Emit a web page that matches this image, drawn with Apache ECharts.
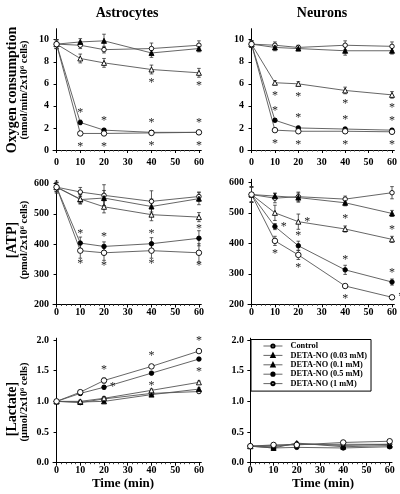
<!DOCTYPE html>
<html><head><meta charset="utf-8">
<script src="https://cdn.jsdelivr.net/npm/echarts@6/dist/echarts.min.js"></script>
<style>html,body{margin:0;padding:0;background:#fff}#c{width:400px;height:494px}</style>
</head><body><div id="c"></div>
<script>
// ---------------- DATA ----------------
const times = [0, 10, 20, 40, 60];
const seriesNames = ['Control', 'DETA-NO (0.03 mM)', 'DETA-NO (0.1 mM)', 'DETA-NO (0.5 mM)', 'DETA-NO (1 mM)'];
const xTickLabels = [0, 10, 20, 30, 40, 50, 60];
const xMinorTicks = [2, 4, 6, 8, 12, 14, 16, 18, 22, 24, 26, 28, 32, 34, 36, 38, 42, 44, 46, 48, 52, 54, 56, 58];
const o2Ticks = [0, 2, 4, 6, 8, 10];
const atpTicks = [200, 300, 400, 500, 600];
const lactTicks = [0, 0.5, 1.0, 1.5, 2.0];

// Oxygen consumption, astrocytes (rows follow seriesNames)
const astroO2 = [
  [9.6, 9.5, 9.1, 9.2, 9.5],
  [9.6, 9.8, 9.9, 8.8, 9.2],
  [9.6, 8.3, 7.9, 7.3, 7.0],
  [9.6, 2.5, 1.8, 1.6, 1.6],
  [9.6, 1.5, 1.5, 1.55, 1.6]
];
const astroO2Err = [
  [0.4, 0.3, 0.3, 0.5, 0.4],
  [0.4, 0.3, 0.6, 0.4, 0.3],
  [0.4, 0.4, 0.4, 0.4, 0.4],
  [0.4, 0.2, 0.15, 0.15, 0.15],
  [0.4, 0.15, 0.15, 0.2, 0.15]
];
const astroO2Sig = [
  ['', '', '', '', ''],
  ['', '', '', '', ''],
  ['', '', '', 'b', 'b'],
  ['', 't', 't', 't', 't'],
  ['', 'b', 'b', 'b', 'b']
];

// Oxygen consumption, neurons
const neuroO2 = [
  [9.6, 9.5, 9.3, 9.5, 9.4],
  [9.6, 9.3, 9.2, 9.0, 9.0],
  [9.6, 6.1, 6.0, 5.4, 5.0],
  [9.6, 2.7, 2.0, 1.9, 1.8],
  [9.6, 1.8, 1.7, 1.7, 1.65]
];
const neuroO2Err = [
  [0.3, 0.3, 0.2, 0.4, 0.4],
  [0.3, 0.3, 0.2, 0.4, 0.3],
  [0.3, 0.2, 0.2, 0.3, 0.3],
  [0.3, 0.15, 0.15, 0.15, 0.15],
  [0.3, 0.15, 0.15, 0.15, 0.15]
];
const neuroO2Sig = [
  ['', '', '', '', ''],
  ['', '', '', '', ''],
  ['', 'b', 'b', 'b', 'b'],
  ['', 't', 't', 't', 't'],
  ['', 'b', 'b', 'b', 'b']
];

// ATP, astrocytes
const astroATP = [
  [588, 572, 561, 541, 557],
  [588, 547, 552, 524, 550],
  [588, 549, 523, 497, 489],
  [588, 403, 392, 401, 419],
  [588, 378, 371, 378, 371]
];
const astroATPErr = [
  [20, 15, 35, 35, 15],
  [15, 15, 25, 25, 20],
  [15, 15, 20, 20, 15],
  [15, 20, 15, 20, 25],
  [15, 25, 25, 25, 30]
];
const astroATPSig = [
  ['', '', '', '', ''],
  ['', '', '', '', ''],
  ['', '', '', '', ''],
  ['', 't', 't', 't', 't'],
  ['', 'b', 'b', 'b', 'b']
];

// ATP, neurons
const neuroATP = [
  [560, 548, 553, 545, 566],
  [560, 555, 550, 533, 498],
  [560, 500, 471, 447, 413],
  [560, 455, 392, 313, 273],
  [560, 408, 362, 260, 223]
];
const neuroATPErr = [
  [25, 15, 15, 10, 20],
  [25, 10, 15, 10, 10],
  [25, 25, 25, 10, 10],
  [25, 10, 15, 15, 10],
  [25, 15, 15, 5, 5]
];
const neuroATPSig = [
  ['', '', '', '', ''],
  ['', '', '', '', ''],
  ['', '', 'r', 't', 't'],
  ['', 'r', 't', 't', 't'],
  ['', 'b', 'b', 'b', 'r']
];

// Lactate, astrocytes
const astroLac = [
  [1.0, 0.98, 1.04, 1.13, 1.16],
  [1.0, 0.99, 1.0, 1.11, 1.2],
  [1.0, 1.0, 1.05, 1.18, 1.31],
  [1.0, 1.13, 1.23, 1.46, 1.69],
  [1.0, 1.15, 1.34, 1.57, 1.82]
];
const astroLacErr = [
  [0.02, 0.02, 0.02, 0.02, 0.02],
  [0.02, 0.02, 0.02, 0.02, 0.02],
  [0.02, 0.02, 0.03, 0.02, 0.02],
  [0.02, 0.03, 0.03, 0.02, 0.02],
  [0.02, 0.03, 0.04, 0.02, 0.02]
];
const astroLacSig = [
  ['', '', '', '', ''],
  ['', '', '', '', ''],
  ['', '', '', '', ''],
  ['', '', 'r', 'b', 'b'],
  ['', '', 't', 't', 't']
];

// Lactate, neurons
const neuroLac = [
  [0.27, 0.28, 0.30, 0.30, 0.30],
  [0.27, 0.24, 0.32, 0.26, 0.28],
  [0.27, 0.26, 0.31, 0.28, 0.30],
  [0.27, 0.24, 0.25, 0.24, 0.26],
  [0.27, 0.29, 0.29, 0.33, 0.35]
];
const neuroLacErr = [
  [0.02, 0.02, 0.02, 0.02, 0.02],
  [0.02, 0.02, 0.02, 0.02, 0.02],
  [0.02, 0.02, 0.02, 0.02, 0.02],
  [0.02, 0.02, 0.02, 0.02, 0.02],
  [0.02, 0.02, 0.02, 0.02, 0.02]
];
const neuroLacSig = [
  ['', '', '', '', ''], ['', '', '', '', ''], ['', '', '', '', ''], ['', '', '', '', ''], ['', '', '', '', '']
];

// ---------------- STYLE / LAYOUT ----------------
const FONT = 'Liberation Serif';
const symbols = ['circle', 'triangle', 'triangle', 'circle', 'circle'];
const symbolFills = ['#fff', '#000', '#fff', '#000', '#fff'];
const symbolSizes = [4.5, 5, 5, 4.5, 5.5];

const panels = [
  { vals: astroO2, err: astroO2Err, sig: astroO2Sig, grid: { left: 53, top: 28.7, width: 148.3, height: 121.3 }, xmin: -1.5, ymin: 0, ymax: 11, ticks: o2Ticks, dec: 0, xMargin: 7 },
  { vals: neuroO2, err: neuroO2Err, sig: neuroO2Sig, grid: { left: 248, top: 28.7, width: 147.7, height: 121.3 }, xmin: -1.5, ymin: 0, ymax: 11, ticks: o2Ticks, dec: 0, xMargin: 7 },
  { vals: astroATP, err: astroATPErr, sig: astroATPSig, grid: { left: 53, top: 180.5, width: 148.3, height: 124 }, xmin: -1.5, ymin: 200, ymax: 610, ticks: atpTicks, dec: 0, xMargin: 3 },
  { vals: neuroATP, err: neuroATPErr, sig: neuroATPSig, grid: { left: 248, top: 179.3, width: 147.7, height: 125 }, xmin: -1.5, ymin: 200, ymax: 610, ticks: atpTicks, dec: 0, xMargin: 3 },
  { vals: astroLac, err: astroLacErr, sig: astroLacSig, grid: { left: 53, top: 338.2, width: 148.3, height: 124.5 }, xmin: -1.5, ymin: 0, ymax: 2.03, ticks: lactTicks, dec: 1, xMargin: 3 },
  { vals: neuroLac, err: neuroLacErr, sig: neuroLacSig, grid: { left: 248, top: 338.2, width: 144, height: 124.5 }, xmin: -1, ymin: 0, ymax: 2.03, ticks: lactTicks, dec: 1, xMargin: 3 }
];

const grids = [], xAxes = [], yAxes = [], series = [];
const labelFont = { fontFamily: FONT, fontWeight: 'bold', fontSize: 10, color: '#000' };
const axisLine = { show: true, lineStyle: { color: '#000', width: 1 } };

function errRender(params, api) {
  const x = api.value(0), y = api.value(1), e = api.value(2);
  const p1 = api.coord([x, y + e]), p2 = api.coord([x, y - e]);
  const w = 1.8, st = { stroke: '#333', lineWidth: 0.8 };
  return {
    type: 'group', children: [
      { type: 'line', shape: { x1: p1[0], y1: p1[1], x2: p2[0], y2: p2[1] }, style: st },
      { type: 'line', shape: { x1: p1[0] - w, y1: p1[1], x2: p1[0] + w, y2: p1[1] }, style: st },
      { type: 'line', shape: { x1: p2[0] - w, y1: p2[1], x2: p2[0] + w, y2: p2[1] }, style: st }
    ]
  };
}

function sigLabel(code) {
  if (!code) return { show: false };
  const base = { show: true, formatter: '*', fontFamily: FONT, fontSize: 12, color: '#222' };
  if (code === 't') return Object.assign(base, { position: 'top', distance: 1 });
  if (code === 'b') return Object.assign(base, { position: 'bottom', distance: 4 });
  return Object.assign(base, { position: 'right', distance: 3 });
}

panels.forEach((p, gi) => {
  grids.push(Object.assign({ containLabel: false }, p.grid));
  xAxes.push({
    type: 'value', gridIndex: gi, min: p.xmin, max: 61, position: 'bottom',
    axisLine: axisLine, splitLine: { show: false },
    axisTick: { show: true, length: 3, customValues: xTickLabels, lineStyle: { color: '#000' } },
    axisLabel: Object.assign({ customValues: xTickLabels, margin: p.xMargin }, labelFont)
  });
  xAxes.push({
    type: 'value', gridIndex: gi, min: p.xmin, max: 61, position: 'bottom', offset: 0,
    axisLine: { show: false }, splitLine: { show: false },
    axisTick: { show: true, length: 1.5, customValues: xMinorTicks, lineStyle: { color: '#444' } },
    axisLabel: { show: false }
  });
  yAxes.push({
    type: 'value', gridIndex: gi, min: p.ymin, max: p.ymax,
    axisLine: axisLine, splitLine: { show: false },
    axisTick: { show: true, length: 3, customValues: p.ticks, lineStyle: { color: '#000' } },
    axisLabel: Object.assign({ customValues: p.ticks, margin: 4, formatter: v => v.toFixed(p.dec) }, labelFont)
  });
  p.vals.forEach((row, si) => {
    series.push({
      type: 'custom', xAxisIndex: gi * 2, yAxisIndex: gi, renderItem: errRender, z: 1,
      encode: { x: 0, y: 1 }, silent: true,
      data: times.map((t, i) => [t, row[i], p.err[si][i]])
    });
    series.push({
      type: 'line', name: seriesNames[si], xAxisIndex: gi * 2, yAxisIndex: gi, z: 3,
      symbol: symbols[si], symbolSize: symbolSizes[si], showAllSymbol: true,
      lineStyle: { color: '#555', width: 0.9 },
      itemStyle: { color: symbolFills[si], borderColor: '#000', borderWidth: 0.9 },
      emphasis: { disabled: true }, animation: false,
      data: times.map((t, i) => ({ value: [t, row[i]], label: sigLabel(p.sig[si][i]) }))
    });
  });
});

function vText(text, x, y, size) {
  return {
    type: 'text', x: x, y: y, rotation: Math.PI / 2,
    style: { text: text, fontFamily: FONT, fontWeight: 'bold', fontSize: size, fill: '#000', align: 'center', verticalAlign: 'middle' }
  };
}
function hText(text, x, y, size) {
  return {
    type: 'text', x: x, y: y,
    style: { text: text, fontFamily: FONT, fontWeight: 'bold', fontSize: size, fill: '#000', align: 'center', verticalAlign: 'middle' }
  };
}

const option = {
  backgroundColor: '#fff',
  animation: false,
  grid: grids, xAxis: xAxes, yAxis: yAxes, series: series,
  legend: {
    data: seriesNames, orient: 'vertical', left: 251, top: 339.5,
    borderColor: '#000', borderWidth: 1, borderRadius: 0,
    padding: [2, 4, 3, 12], itemGap: 0.4, itemWidth: 19, itemHeight: 4,
    selectedMode: false,
    lineStyle: { width: 0.9 },
    textStyle: { fontFamily: FONT, fontWeight: 'bold', fontSize: 8.3, lineHeight: 9, color: '#000', padding: [0, 0, 0, 3] }
  },
  graphic: [
    hText('Astrocytes', 127, 13, 14),
    hText('Neurons', 322, 13, 14),
    vText('Oxygen consumption', 12.5, 90, 14),
    vText('(nmol/min/2x10⁶ cells)', 24.5, 90, 10.5),
    vText('[ATP]', 12.5, 240, 14),
    vText('(pmol/2x10⁶ cells)', 24.5, 240, 10.5),
    vText('[Lactate]', 12.5, 409, 14),
    vText('(μmol/2x10⁶ cells)', 24.5, 402, 10.5),
    hText('Time (min)', 123, 484, 13),
    hText('Time (min)', 323, 484, 13)
  ]
};

const chart = echarts.init(document.getElementById('c'), null, { renderer: 'canvas' });
chart.setOption(option);
</script>
</body></html>
